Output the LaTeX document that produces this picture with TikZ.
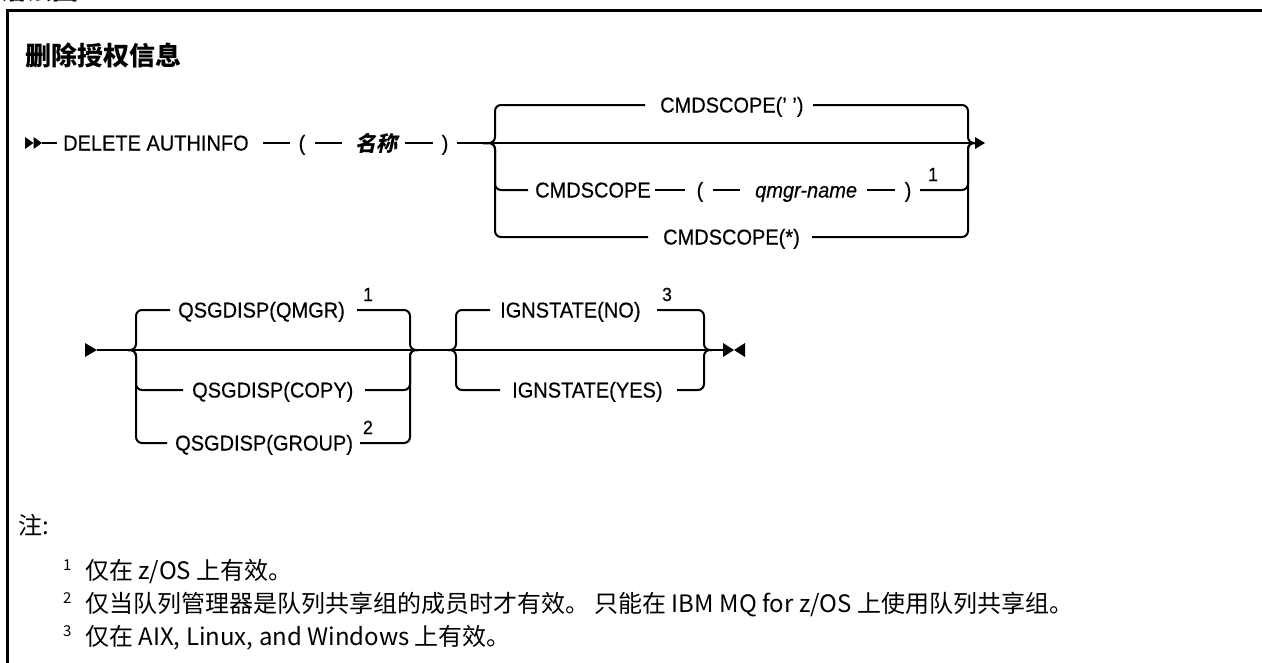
\documentclass[tikz,border=0pt]{standalone}
\usepackage{fontspec}
\setmainfont[FakeStretch=0.93,FakeBold=0.4]{Liberation Sans}
\newfontfamily\cjk{Noto Sans CJK SC}
\newfontfamily\cjksl[FakeSlant=0.22]{Noto Sans CJK SC}
\begin{document}
\begin{tikzpicture}[x=1pt,y=-1pt,
  rr/.style={line width=2pt, rounded corners=6pt},
  ln/.style={line width=2pt},
  kw/.style={anchor=base west, inner sep=0pt, font=\fontsize{21.5}{24}\selectfont},
  par/.style={anchor=base, inner sep=0pt, font=\fontsize{21.5}{24}\selectfont},
  var/.style={anchor=base west, inner sep=0pt, font=\fontsize{21.5}{24}\selectfont\itshape},
  supn/.style={anchor=base, inner sep=0pt, font=\fontsize{19}{20}\selectfont},
  note/.style={anchor=base west, inner sep=0pt, font=\cjk\fontsize{24}{28}\selectfont},
  notesup/.style={anchor=base west, inner sep=0pt, font=\cjk\fontsize{15}{18}\selectfont},
  frame/.style={line width=3pt}
]
\useasboundingbox (0,0) rectangle (1262,662);

% partial heading and frame
\node[anchor=base west, inner sep=0pt, font=\cjk\bfseries\fontsize{26}{30}\selectfont] (hd) at (0,-0.5) {语法图};
\draw[frame] (7,700) -- (7,10.5) -- (1300,10.5);

% title
\node[anchor=base west, inner sep=0pt, font=\cjk\bfseries\fontsize{26}{30}\selectfont] (title) at (25,65) {删除授权信息};

% ---------- line 1 ----------
\fill (25,137) -- (33.5,143) -- (25,149) -- cycle;
\fill (33.5,137) -- (42,143) -- (33.5,149) -- cycle;
\coordinate (s1) at (42,143);
\node[kw] (del) at (63,150.5) {DELETE AUTHINFO};
\draw[ln] (s1) -- (57,143);
\draw[ln] (263,143) -- (290,143);
\node[par] (lp1) at (302,150.5) {(};
\draw[ln] (315,143) -- (342,143);
\node[anchor=base west, inner sep=0pt, font=\cjksl\bfseries\fontsize{21}{24}\selectfont] (nm) at (355,151) {名称};
\draw[ln] (405,143) -- (433,143);
\node[par] (rp1) at (445,150.5) {)};
\coordinate (j1) at (483,143);
\coordinate (e1) at (975,143);
\draw[ln] (457,143) -- (e1);
\fill (975,137) -- (985,143) -- (975,149) -- cycle;

% branch rows
\node[kw] (cmd1) at (660,112.5) {CMDSCOPE(' ')};
\draw[rr] (j1) -| (495,105) -- (645,105);
\draw[rr] (813,105) -| (968,143) -- (e1);

\node[kw] (cmd2) at (535,197.5) {CMDSCOPE};
\draw[rr] (j1) -| (495,190) -- (528,190);
\draw[ln] (655,190) -- (685,190);
\node[par] (lp2) at (700,197.5) {(};
\draw[ln] (713,190) -- (740,190);
\node[var] (qm) at (755,197.5) {qmgr-name};
\draw[ln] (867,190) -- (895,190);
\node[par] (rp2) at (908,197.5) {)};
\node[supn] (f1a) at (933,181) {1};
\draw[rr] (920,190) -| (968,143) -- (e1);

\node[kw] (cmd3) at (663,244.5) {CMDSCOPE(*)};
\draw[rr] (j1) -| (495,237) -- (648,237);
\draw[rr] (812,237) -| (968,143) -- (e1);

% ---------- line 2 ----------
\fill (85,343) -- (97,350) -- (85,357) -- cycle;
\coordinate (s2) at (97,350);
\coordinate (ja) at (128,350);
\coordinate (jb) at (448,350);
\coordinate (e2) at (723,350);
\draw[ln] (s2) -- (e2);

\node[kw] (q1) at (178,317.5) {QSGDISP(QMGR)};
\node[supn] (f1b) at (368,301) {1};
\draw[rr] (ja) -| (136,310) -- (170,310);
\draw[rr] (357,310) -| (410,350) -- (418,350);

\node[kw] (q2) at (192,397.5) {QSGDISP(COPY)};
\draw[rr] (ja) -| (136,390) -- (183,390);
\draw[rr] (365,390) -| (410,350) -- (418,350);

\node[kw] (q3) at (175,450.5) {QSGDISP(GROUP)};
\node[supn] (f2) at (368,434) {2};
\draw[rr] (ja) -| (136,443) -- (167,443);
\draw[rr] (360,443) -| (410,350) -- (418,350);

\node[kw] (ig1) at (500,317.5) {IGNSTATE(NO)};
\node[supn] (f3) at (667,301) {3};
\draw[rr] (jb) -| (456,310) -- (490,310);
\draw[rr] (657,310) -| (704,350) -- (712,350);

\node[kw] (ig2) at (512,397.5) {IGNSTATE(YES)};
\draw[rr] (jb) -| (456,390) -- (500,390);
\draw[rr] (677,390) -| (704,350) -- (712,350);

\fill (723,343) -- (734,350) -- (723,357) -- cycle;
\fill (745,343) -- (734,350) -- (745,357) -- cycle;

% ---------- notes ----------
\node[note] (zhu) at (18,534) {注:};
\node[notesup] (ns1) at (63,570) {1};
\node[note] (n1) at (85,579) {仅在 z/OS 上有效。};
\node[notesup] (ns2) at (63,603) {2};
\node[note] (n2) at (85,612) {仅当队列管理器是队列共享组的成员时才有效。 只能在 IBM MQ for z/OS 上使用队列共享组。};
\node[notesup] (ns3) at (63,636) {3};
\node[note] (n3) at (85,645) {仅在 AIX, Linux, and Windows 上有效。};
\end{tikzpicture}
\end{document}
